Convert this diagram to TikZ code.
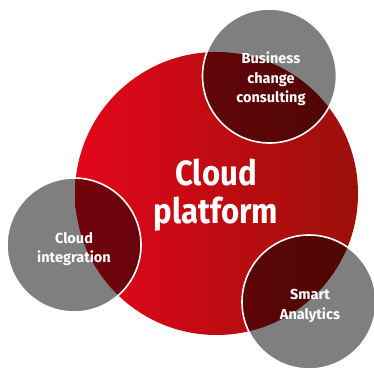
\documentclass[tikz,border=0pt]{standalone}
\usepackage{fontspec}
\setmainfont{Fira Sans}
\newfontfamily\bigfont[FakeStretch=0.89]{Fira Sans}
\definecolor{redL}{RGB}{228,6,26}
\definecolor{redR}{RGB}{155,16,10}
\begin{document}
\begin{tikzpicture}[x=1pt,y=-1pt,
  core/.style={circle, inner sep=0pt, minimum size=283pt, shading=axis, left color=redL, right color=redR, shading angle=90},
  sat/.style={circle, inner sep=0pt, minimum size=134pt, fill=black, fill opacity=0.5, draw=white, draw opacity=1, line width=1.6pt},
  lbl/.style={align=center, text=white, font=\bfseries\fontsize{14.5}{19.5}\selectfont},
  biglbl/.style={align=center, text=white, font=\bigfont\bfseries\fontsize{35}{38}\selectfont}]
\useasboundingbox (0,0) rectangle (374,367);
\node[core] (core) at (216.5,193.5) {};
\node[sat] (bc) at (269.5,76) {};
\node[sat] (ci) at (74,245) {};
\node[sat] (sa) at (309,302) {};
\node[biglbl] (tcore) at (216,195) {Cloud\\platform};
\node[lbl] (tbc) at (271,79) {Business\\change\\consulting};
\node[lbl] (tci) at (74,249) {Cloud\\integration};
\node[lbl] (tsa) at (310,306) {Smart\\Analytics};
\end{tikzpicture}
\end{document}
